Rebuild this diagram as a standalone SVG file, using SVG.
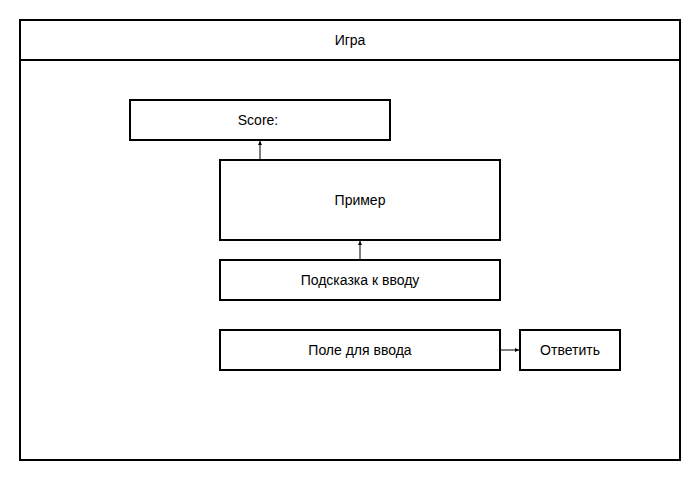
<svg xmlns="http://www.w3.org/2000/svg" width="700" height="480" viewBox="0 0 700 480">
<style>
.b{fill:#fff;stroke:#000;stroke-width:2}
.t{font-family:"Liberation Sans",Arial,sans-serif;font-size:14px;fill:#000;text-anchor:middle;dominant-baseline:central}
.c{stroke:#000;stroke-width:1;fill:none}
</style>
<defs>
<marker id="a" viewBox="0 0 10 10" refX="10" refY="5" markerWidth="4" markerHeight="4" orient="auto" markerUnits="userSpaceOnUse">
<path d="M0,0L10,5L0,10z" fill="#000"/>
</marker>
</defs>
<rect width="700" height="480" fill="#fff"/>
<g id="game">
<rect class="b" x="20" y="20" width="660" height="440"/>
<line x1="20" y1="60" x2="680" y2="60" stroke="#000" stroke-width="2"/>
<text class="t" x="350" y="40">Игра</text>
</g>
<g id="score">
<rect class="b" x="130" y="100" width="260" height="40"/>
<text class="t" x="258" y="120">Score:</text>
</g>
<g id="example">
<rect class="b" x="220" y="160" width="280" height="80"/>
<text class="t" x="360" y="200">Пример</text>
</g>
<g id="hint">
<rect class="b" x="220" y="260" width="280" height="40"/>
<text class="t" x="360" y="280">Подсказка к вводу</text>
</g>
<g id="input">
<rect class="b" x="220" y="330" width="280" height="40"/>
<text class="t" x="360" y="350">Поле для ввода</text>
</g>
<g id="answer">
<rect class="b" x="520" y="330" width="100" height="40"/>
<text class="t" x="570" y="350">Ответить</text>
</g>
<g id="connectors">
<line class="c" x1="260" y1="159" x2="260" y2="141" marker-end="url(#a)"/>
<line class="c" x1="360" y1="259" x2="360" y2="241" marker-end="url(#a)"/>
<line class="c" x1="501" y1="350" x2="519" y2="350" marker-end="url(#a)"/>
</g>
</svg>
